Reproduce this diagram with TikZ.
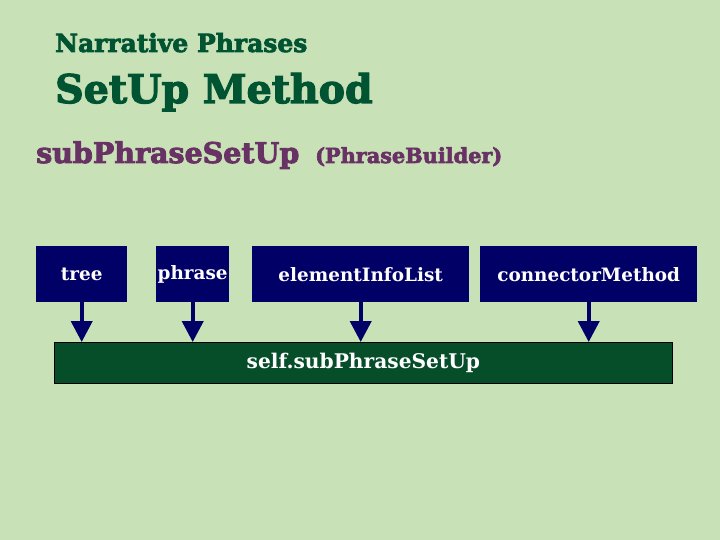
\documentclass[tikz,border=0pt]{standalone}
\usepackage{fontspec}
\setmainfont{DejaVu Serif}
\newfontfamily\heavyserif[FakeBold=3]{DejaVu Serif Bold}
\usetikzlibrary{arrows.meta}
\definecolor{navyblue}{RGB}{0,0,102}
\definecolor{bargreen}{RGB}{6,78,42}
\definecolor{titlegreen}{RGB}{0,84,50}
\definecolor{plum}{RGB}{104,50,100}
\definecolor{paper}{RGB}{200,225,182}
\tikzset{
  argbox/.style={fill=navyblue, text=white, font=\bfseries\fontsize{18.4}{20}\selectfont,
    inner sep=0pt, minimum height=56pt, anchor=north west},
  callbar/.style={fill=bargreen, draw=black, line width=0.8pt, text=white,
    font=\bfseries\fontsize{20.2}{22}\selectfont, inner sep=0pt,
    minimum width=618pt, minimum height=41pt, anchor=north west},
  feed/.style={draw=navyblue, line width=4pt, -{Triangle[width=21pt,length=21pt]}},
  heading/.style={anchor=base west, inner sep=0pt}
}
\begin{document}
\begin{tikzpicture}[x=1pt,y=-1pt]
      \useasboundingbox (0,0) rectangle (720,540);
      \fill[paper] (0,0) rectangle (720,540);
      \draw
        (55,52) node[heading, text=titlegreen, font=\heavyserif\fontsize{25}{27}\selectfont] (head){Narrative Phrases}
        (55,103) node[heading, text=titlegreen, font=\heavyserif\fontsize{39.5}{42}\selectfont] (title){SetUp Method}
        (36,163) node[heading, text=plum, font=\heavyserif\fontsize{28.5}{30}\selectfont] (method){subPhraseSetUp}
        (315,163) node[heading, text=plum, font=\heavyserif\fontsize{20.8}{22}\selectfont] (owner){(PhraseBuilder)};
      \draw
        (36,246) node[argbox, minimum width=91pt] (tree){tree}
        (156,246) node[argbox, minimum width=73pt] (phrase){phrase}
        (252,246) node[argbox, minimum width=217pt] (elems){elementInfoList}
        (480,246) node[argbox, minimum width=217pt] (conn){connectorMethod}
        (54,342) node[callbar] (bar){self.subPhraseSetUp};
      \begin{scope}[feed]
        \draw (tree.south) to (tree.south |- bar.north);
        \draw (phrase.south) to (phrase.south |- bar.north);
        \draw (elems.south) to (elems.south |- bar.north);
        \draw (conn.south) to (conn.south |- bar.north);
      \end{scope}
    \end{tikzpicture}
\end{document}
